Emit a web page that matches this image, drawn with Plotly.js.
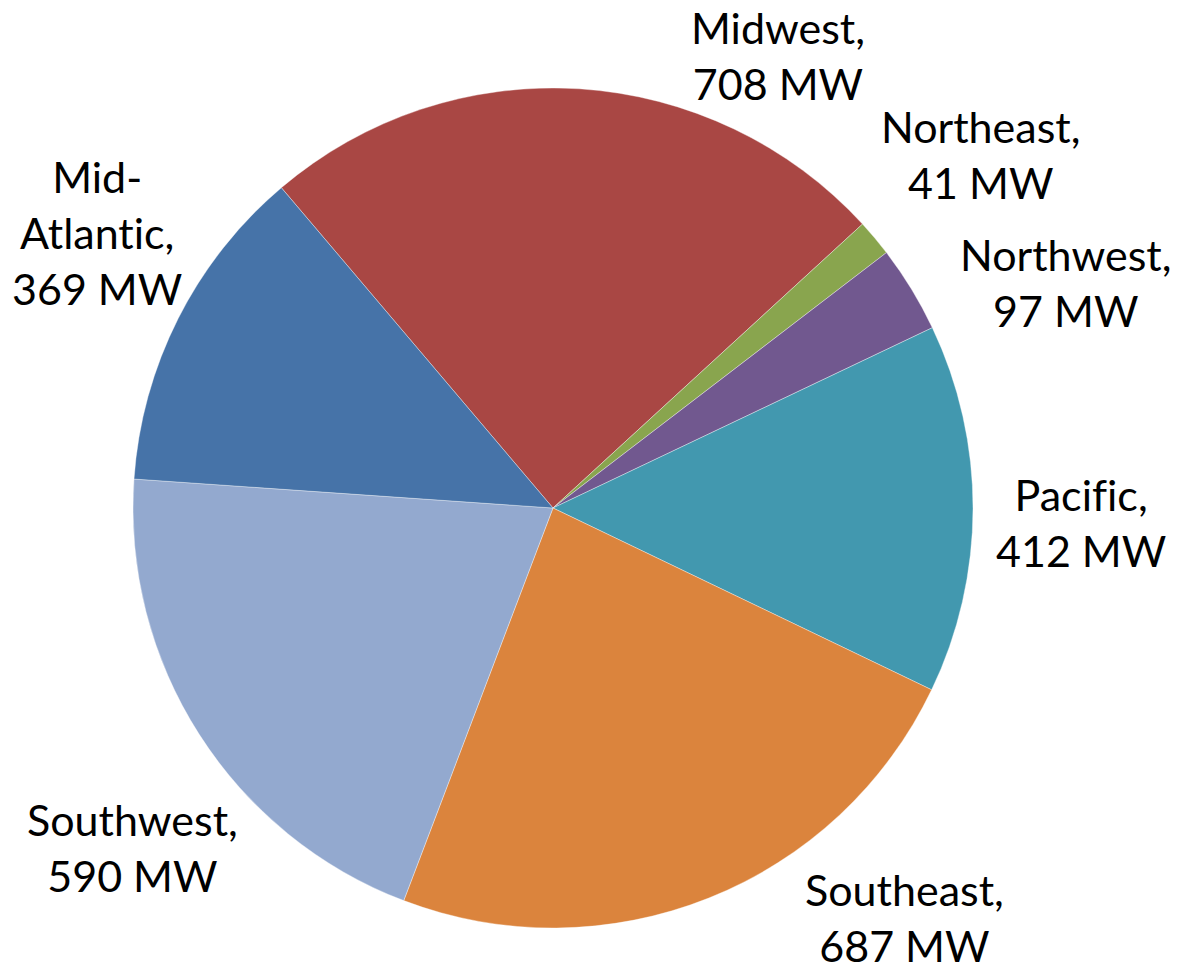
<!DOCTYPE html>
<html>
<head>
<meta charset="utf-8">
<script src="https://cdn.plot.ly/plotly-3.0.1.min.js"></script>
<style>
  html, body { margin: 0; padding: 0; background: #fff; }
  #chart { width: 1178px; height: 973px; }
  #chart text { font-variant-ligatures: none; font-feature-settings: "liga" 0; }
</style>
</head>
<body>
<div id="chart"></div>
<script>
// Installed capacity by region (MW), listed clockwise from Midwest
const regions = ["Midwest", "Northeast", "Northwest", "Pacific", "Southeast", "Southwest", "Mid-Atlantic"];
const capacityMW = [708, 41, 97, 412, 687, 590, 369];
// Label text per slice ("Pacif\u200Cic" keeps the f and i as separate glyphs)
const labelLines = ["Midwest,<br>708 MW", "Northeast,<br>41 MW", "Northwest,<br>97 MW", "Pacif\u200Cic,<br>412 MW",
                    "Southeast,<br>687 MW", "Southwest,<br>590 MW", "Mid-<br>Atlantic,<br>369 MW"];
const sliceColors = ["#A94744", "#89A54E", "#71588F", "#4298AF", "#DB843D", "#93A9CF", "#4673A8"];

// Label anchor points in page pixels (centre of each text block)
const labelPos = [[778, 56], [980, 155], [1065, 282], [1081, 522], [904, 917], [132, 847], [97, 233]];

const W = 1178, H = 973;
const cx = 553, cy = 508, R = 420;

const annotations = regions.map((r, i) => ({
  x: labelPos[i][0] / W,
  y: 1 - labelPos[i][1] / H,
  xref: "paper", yref: "paper",
  xanchor: "center", yanchor: "middle",
  text: labelLines[i],
  showarrow: false,
  align: "center",
  font: { family: "Lato, 'Open Sans', sans-serif", size: 43, color: "#000" }
}));

const trace = {
  type: "pie",
  labels: regions,
  values: capacityMW,
  sort: false,
  direction: "clockwise",
  rotation: -40.3,
  textinfo: "none",
  hoverinfo: "label+value",
  marker: { colors: sliceColors, line: { color: "rgba(255,255,255,0.6)", width: 0.6 } },
  domain: {
    x: [(cx - R) / W, (cx + R) / W],
    y: [(H - cy - R) / H, (H - cy + R) / H]
  },
  showlegend: false
};

const layout = {
  width: W, height: H,
  margin: { l: 0, r: 0, t: 0, b: 0 },
  paper_bgcolor: "#fff",
  plot_bgcolor: "#fff",
  showlegend: false,
  annotations: annotations
};

Plotly.newPlot("chart", [trace], layout, { displayModeBar: false, staticPlot: true });
</script>
</body>
</html>
